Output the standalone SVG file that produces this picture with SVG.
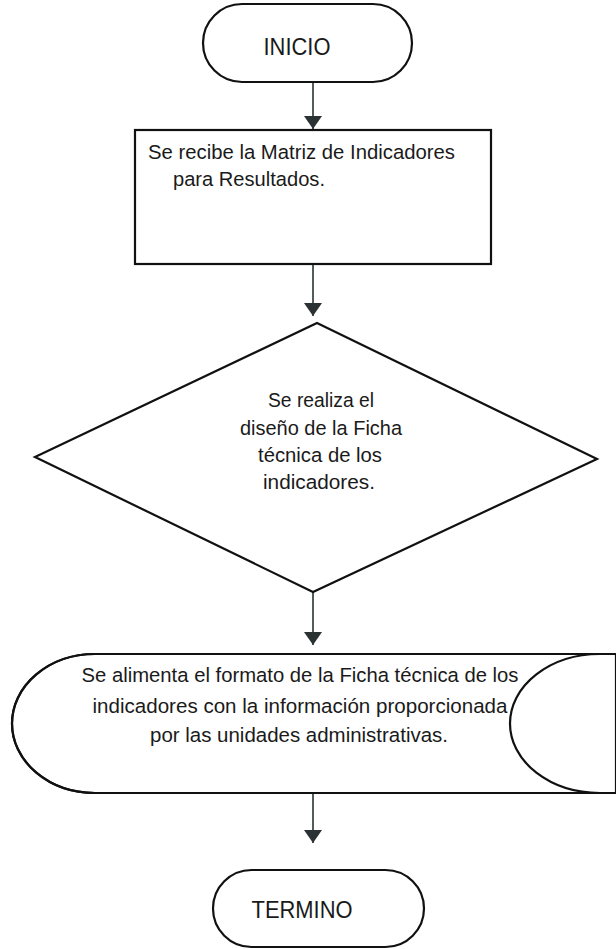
<svg xmlns="http://www.w3.org/2000/svg" width="616" height="949" viewBox="0 0 616 949">
<defs>
<style>
.shape{fill:#fff;stroke:#111;stroke-width:2.2}
.line{fill:none;stroke:#111;stroke-width:2.2}
.conn{fill:none;stroke:#2a3234;stroke-width:1.6}
.t{font-family:"Liberation Sans",Arial,sans-serif;font-size:20.5px;fill:#1a1a1a}
.term{font-family:"Liberation Sans",Arial,sans-serif;font-size:24px;fill:#1a1a1a}
</style>
<marker id="ah" viewBox="0 0 13 18" refX="13" refY="9" markerWidth="13" markerHeight="18" orient="auto" markerUnits="userSpaceOnUse">
<path d="M0,0 L13,9 L0,18 z" fill="#2a3234"/>
</marker>
</defs>
<rect width="616" height="949" fill="#fff"/>
<g id="connectors">
<line class="conn" x1="313" y1="82" x2="313" y2="129" marker-end="url(#ah)"/>
<line class="conn" x1="313" y1="264" x2="313" y2="316" marker-end="url(#ah)"/>
<line class="conn" x1="313" y1="592" x2="313" y2="645" marker-end="url(#ah)"/>
<line class="conn" x1="313" y1="793" x2="313" y2="843" marker-end="url(#ah)"/>
</g>
<g id="inicio">
<rect class="shape" x="203" y="4" width="209" height="78" rx="39" ry="39"/>
<text class="term" x="297" y="55" text-anchor="middle" textLength="67" lengthAdjust="spacingAndGlyphs">INICIO</text>
</g>
<g id="recibe">
<rect class="shape" x="135" y="130" width="356" height="134"/>
<text class="t" x="148" y="159" textLength="307" lengthAdjust="spacingAndGlyphs">Se recibe la Matriz de Indicadores</text>
<text class="t" x="173" y="186" textLength="152" lengthAdjust="spacingAndGlyphs">para Resultados.</text>
</g>
<g id="diseno">
<polygon class="shape" points="317,323 597,459 313,592 35,457"/>
<text class="t" x="321" y="407" text-anchor="middle" textLength="106" lengthAdjust="spacingAndGlyphs">Se realiza el</text>
<text class="t" x="321" y="435" text-anchor="middle" textLength="162" lengthAdjust="spacingAndGlyphs">diseño de la Ficha</text>
<text class="t" x="320" y="462" text-anchor="middle" textLength="124" lengthAdjust="spacingAndGlyphs">técnica de los</text>
<text class="t" x="319" y="489" text-anchor="middle" textLength="112" lengthAdjust="spacingAndGlyphs">indicadores.</text>
</g>
<g id="alimenta">
<path class="shape" d="M95,654 L616,654 L616,793 L95,793 A83,69.5 0 0 1 95,654 z" stroke="none"/>
<path class="line" d="M616,654 L95,654 A83,69.5 0 0 0 95,793 L616,793"/>
<path class="line" d="M600,654 A90,69.5 0 0 0 600,793"/>
<text class="t" x="300" y="682" text-anchor="middle" textLength="437" lengthAdjust="spacingAndGlyphs">Se alimenta el formato de la Ficha técnica de los</text>
<text class="t" x="300" y="713" text-anchor="middle" textLength="415" lengthAdjust="spacingAndGlyphs">indicadores con la información proporcionada</text>
<text class="t" x="299" y="742" text-anchor="middle" textLength="298" lengthAdjust="spacingAndGlyphs">por las unidades administrativas.</text>
</g>
<g id="termino">
<rect class="shape" x="213" y="870" width="211" height="77" rx="38.5" ry="38.5"/>
<text class="term" x="302" y="918" text-anchor="middle" textLength="101" lengthAdjust="spacingAndGlyphs">TERMINO</text>
</g>
</svg>
